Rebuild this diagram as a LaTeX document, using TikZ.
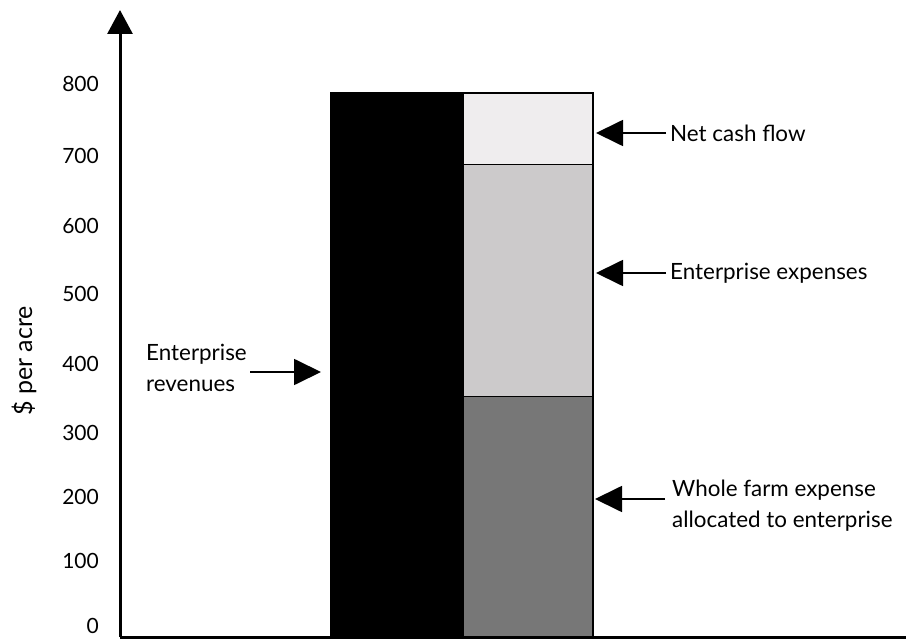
\documentclass[tikz,border=0pt]{standalone}
\usepackage{fontspec}
\setmainfont{Lato}
\usetikzlibrary{arrows.meta}
\begin{document}
\begin{tikzpicture}[x=1pt,y=-1pt,
  lbl/.style={font=\fontsize{22.4}{31}\selectfont, inner sep=0pt},
  tick/.style={inner sep=0pt, font=\fontsize{21}{25}\selectfont, anchor=east},
  callout/.style={line width=1.8pt, -{Triangle[length=27pt,width=26pt]}},
  seg/.style={draw=black, line width=1pt}]
\useasboundingbox (0,0) rectangle (906,639);
% bars
\fill[black] (330,93) rectangle (463,636);
\fill[seg, fill={rgb,255:red,239;green,237;blue,238}] (463,93) rectangle (593,165);
\fill[seg, fill={rgb,255:red,204;green,202;blue,203}] (463,165) rectangle (593,397);
\fill[seg, fill={rgb,255:red,119;green,119;blue,119}] (463,397) rectangle (593,636);
\draw[line width=1.5pt] (330,93) -- (593,93) -- (593,636);
% axes
\coordinate (o) at (120,637);
\coordinate (ytop) at (120,10);
\coordinate (xend) at (906,637);
\draw[line width=3pt, -{Triangle[length=24pt,width=25pt]}] (o) -- (ytop);
\draw[line width=3pt] (o) -- (xend);
% tick labels
\node[tick] (t800) at (99,84) {800};
\node[tick] (t700) at (99,156) {700};
\node[tick] (t600) at (99,226) {600};
\node[tick] (t500) at (99,294) {500};
\node[tick] (t400) at (99,364) {400};
\node[tick] (t300) at (99,433) {300};
\node[tick] (t200) at (99,497) {200};
\node[tick] (t100) at (99,561) {100};
\node[tick] (t0) at (99,626) {0};
\node[inner sep=0pt, font=\fontsize{25}{30}\selectfont, rotate=90] (ylab) at (24,361) {\$ per acre};
% callouts
\node[lbl, anchor=west] (ncf) at (670,133) {Net cash flow};
\coordinate (ncfT) at (596,133);
\draw[callout] (ncf.west) ++(-4,0) coordinate (ncfS) (ncfS) -- (ncfT);
\node[lbl, anchor=west] (ee) at (670,273) {Enterprise expenses};
\coordinate (eeT) at (596,273);
\draw[callout] (ee.west) ++(-4,0) coordinate (eeS) (eeS) -- (eeT);
\node[lbl, anchor=west, align=left] (wf) at (672,506) {Whole farm expense\\allocated to enterprise};
\coordinate (wfT) at (595,499);
\coordinate (wfS) at (665,499);
\draw[callout] (wfS) -- (wfT);
\node[lbl, anchor=west, align=left] (er) at (146,368) {Enterprise\\revenues};
\coordinate (erS) at (250,372);
\coordinate (erT) at (321,372);
\draw[callout] (erS) -- (erT);
\end{tikzpicture}
\end{document}
